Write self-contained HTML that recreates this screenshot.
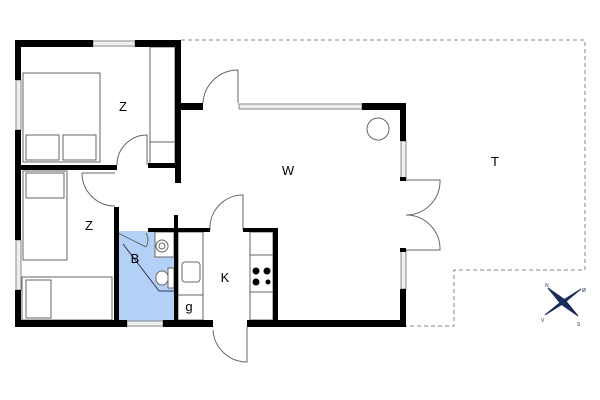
<!DOCTYPE html>
<html><head><style>html,body{margin:0;padding:0;background:#fff}svg{display:block}</style></head>
<body>
<svg width="600" height="400" viewBox="0 0 600 400" xmlns="http://www.w3.org/2000/svg" font-family="Liberation Sans, sans-serif">
<rect width="600" height="400" fill="#fff"/>
<!-- terrace -->
<polyline points="181,40 585,40 585,270 454,270 454,326 406,326" fill="none" stroke="#888" stroke-width="1" stroke-dasharray="4,3"/>
<!-- bath fill -->
<rect x="118" y="231" width="57" height="90" fill="#b3d0f7"/>
<g fill="none" stroke="#666" stroke-width="1">
<!-- wardrobe top Z -->
<rect x="150" y="47" width="25" height="118"/>
<line x1="150" y1="142" x2="175" y2="142"/>
<!-- bed top -->
<rect x="23" y="73" width="77" height="89"/>
<rect x="26" y="135" width="33" height="25"/><rect x="63" y="135" width="33" height="25"/>
<!-- bottom beds -->
<rect x="23" y="171" width="44" height="89"/>
<rect x="26" y="173" width="38" height="25"/>
<rect x="22" y="277" width="90" height="43"/>
<rect x="26" y="280" width="25" height="38"/>
<!-- kitchen counters -->
<rect x="178" y="232" width="25" height="88"/>
<line x1="178" y1="295" x2="203" y2="295"/>
<rect x="182" y="262" width="18" height="20" rx="3"/>
<rect x="250" y="232" width="23" height="88"/>
<line x1="250" y1="255" x2="273" y2="255"/><line x1="250" y1="292" x2="273" y2="292"/>
<!-- bath fixtures -->
<rect x="155" y="232" width="19" height="25" fill="#fff"/>
<circle cx="162" cy="246" r="6"/><circle cx="162" cy="246" r="3"/>
<rect x="156" y="271" width="12" height="14" rx="6" fill="#fff"/>
<rect x="168" y="268" width="6" height="20" fill="#fff"/>
<line x1="123" y1="244" x2="159" y2="291" stroke="#335" />
<line x1="159" y1="291" x2="175" y2="291" stroke="#335"/>
<!-- circle W -->
<circle cx="378" cy="129" r="11"/>
<!-- doors -->
<path d="M238,103 V70 A35,35 0 0 0 203,103"/>
<path d="M147,165 V135 A30,30 0 0 0 117,165"/>
<path d="M82,173 H115 M82,173 A33,33 0 0 0 115,206"/>
<path d="M118,233 L146,247 M146,233 A14,14 0 0 1 146,247"/>
<path d="M243,230 V195 A33,33 0 0 0 210,230"/>
<path d="M247,327 V362 A34,34 0 0 1 213,330"/>
<path d="M406,180 H440 A34,34 0 0 1 406,215"/>
<path d="M406,250 H440 A34,34 0 0 0 406,215"/>
<line x1="100" y1="167" x2="117" y2="167"/>
</g>
<!-- windows -->
<g fill="#eee" stroke="#888" stroke-width="1">
<rect x="93" y="41" width="42" height="5"/>
<rect x="16" y="80" width="5" height="50"/>
<rect x="16" y="240" width="5" height="50"/>
<rect x="127" y="321" width="36" height="5"/>
<rect x="239" y="104" width="123" height="5"/>
<rect x="401" y="141" width="5" height="38"/>
<rect x="401" y="251" width="5" height="38"/>
</g>
<!-- walls -->
<g fill="#000">
<rect x="15" y="40" width="78" height="7"/><rect x="135" y="40" width="46" height="7"/>
<rect x="15" y="40" width="6" height="40"/><rect x="15" y="130" width="6" height="110"/><rect x="15" y="290" width="6" height="37"/>
<rect x="175" y="40" width="6" height="143"/>
<rect x="181" y="103" width="22" height="7"/>
<rect x="362" y="103" width="44" height="7"/>
<rect x="400" y="103" width="6" height="38"/>
<rect x="400" y="177" width="6" height="4"/><rect x="400" y="248" width="6" height="4"/>
<rect x="400" y="289" width="6" height="38"/>
<rect x="15" y="320" width="112" height="7"/><rect x="163" y="320" width="50" height="7"/><rect x="247" y="320" width="159" height="7"/>
<rect x="15" y="165" width="102" height="5"/>
<rect x="148" y="163" width="27" height="5"/>
<rect x="114" y="207" width="5" height="113"/>
<rect x="148" y="228" width="62" height="4"/>
<rect x="243" y="228" width="35" height="4"/>
<rect x="273" y="228" width="5" height="92"/>
<rect x="174" y="215" width="4" height="105"/>
</g>
<!-- stove -->
<g fill="#000"><circle cx="256" cy="271" r="3.5"/><circle cx="267" cy="271" r="3.5"/><circle cx="256" cy="282" r="3.5"/><circle cx="268" cy="282" r="2.5"/></g>
<!-- labels -->
<g font-size="13" fill="#000" text-anchor="middle">
<text x="123" y="111">Z</text>
<text x="89" y="230">Z</text>
<text x="135" y="263">B</text>
<text x="225" y="282">K</text>
<text x="189" y="311">g</text>
<text x="288" y="175">W</text>
<text x="495" y="166">T</text>
</g>
<!-- compass -->
<g transform="translate(563,302)" stroke="#1a2a5a" fill="#1a2a5a">
<polygon points="-15,-14 2,-2 -2,2" /><polygon points="15,14 -2,2 2,-2"/>
<polygon points="18,-13 1,1 -1,-1"/><polygon points="-18,13 -1,-1 1,1"/>
<circle r="2.5"/>
</g>
<g font-size="5" fill="#1a2a5a"><text x="545" y="287">N</text><text x="582" y="292">Ø</text><text x="541" y="322">V</text><text x="577" y="326">S</text></g>
</svg>
</body></html>
